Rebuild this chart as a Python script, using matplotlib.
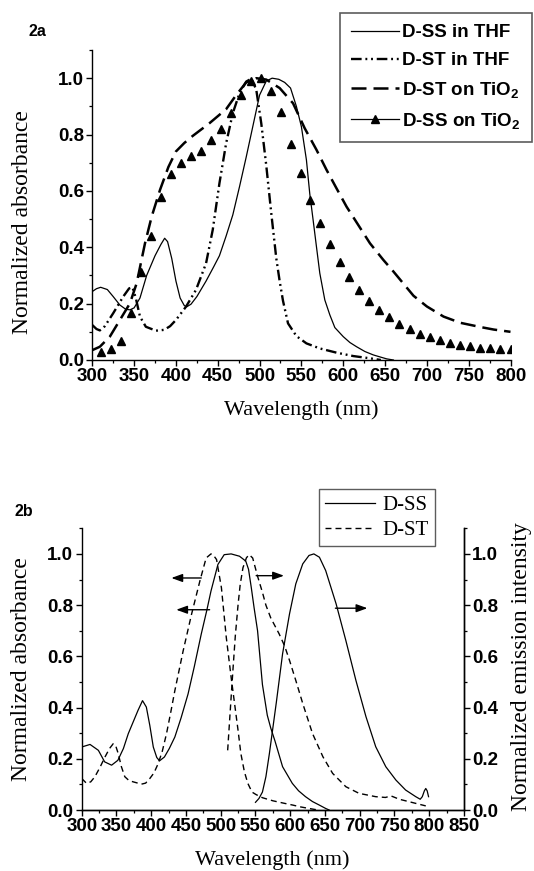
import matplotlib
matplotlib.use("Agg")
import matplotlib.pyplot as plt
from matplotlib.lines import Line2D
from matplotlib.ticker import MultipleLocator

plt.rcParams['mathtext.fontset'] = 'custom'
plt.rcParams['mathtext.rm'] = 'Liberation Sans:bold'
plt.rcParams['mathtext.bf'] = 'Liberation Sans:bold'
plt.rcParams['mathtext.it'] = 'Liberation Sans:bold'

# ---------------- Panel 2a data ----------------
dss_thf_wl = [300, 305, 310, 318, 325, 333, 340, 345, 350, 357, 365, 375, 382, 386.5, 390, 395, 400, 405,
              410, 413, 418, 425, 436, 445, 452, 460, 468, 476, 484, 492, 500, 508, 515, 523, 530, 537,
              544, 550, 556, 560, 564, 568, 572, 578, 584, 590, 600, 608, 616, 626, 636, 645, 652, 660]
dss_thf_abs = [0.243, 0.253, 0.258, 0.250, 0.225, 0.195, 0.180, 0.178, 0.185, 0.220, 0.300, 0.370, 0.410,
               0.432, 0.420, 0.360, 0.280, 0.220, 0.193, 0.189, 0.198, 0.225, 0.280, 0.330, 0.370, 0.440,
               0.515, 0.615, 0.720, 0.830, 0.940, 0.990, 1.000, 0.996, 0.985, 0.965, 0.900, 0.828, 0.710,
               0.590, 0.497, 0.402, 0.308, 0.213, 0.160, 0.115, 0.083, 0.062, 0.047, 0.030, 0.018, 0.010,
               0.004, 0.000]

dst_thf_wl = [300, 305, 309, 315, 325, 337, 344, 348, 352, 357, 364, 376, 386, 393, 400, 412, 424, 436,
              444, 452, 460, 468, 476, 484, 490, 496, 502, 508, 514, 520, 524, 528, 534, 544, 556, 572,
              592, 612, 632, 645]
dst_thf_abs = [0.124, 0.110, 0.105, 0.120, 0.166, 0.225, 0.254, 0.258, 0.220, 0.154, 0.118, 0.104, 0.107,
               0.120, 0.142, 0.189, 0.249, 0.343, 0.462, 0.627, 0.769, 0.876, 0.947, 0.988, 0.998, 0.960,
               0.840, 0.690, 0.520, 0.360, 0.280, 0.210, 0.130, 0.085, 0.059, 0.041, 0.026, 0.014, 0.006,
               0.000]

dst_tio2_wl = [300, 309, 321, 333, 345, 353, 363, 371, 381, 391, 400, 410, 420, 440, 460, 472, 484, 496,
               508, 524, 540, 554, 568, 580, 592, 604, 618, 632, 648, 660, 684, 700, 720, 740, 764, 780, 800]
dst_tio2_abs = [0.035, 0.047, 0.083, 0.142, 0.201, 0.272, 0.414, 0.509, 0.604, 0.685, 0.740, 0.770, 0.795,
                0.840, 0.890, 0.940, 0.985, 1.000, 0.995, 0.965, 0.911, 0.822, 0.746, 0.675, 0.609, 0.544,
                0.479, 0.414, 0.355, 0.314, 0.228, 0.190, 0.154, 0.132, 0.117, 0.108, 0.100]

dss_tio2_wl = [310, 322, 334, 346, 358, 370, 382, 394, 406, 418, 430, 442, 454, 466, 478, 490, 502, 514,
               526, 538, 549, 560, 572, 584, 596, 607, 619, 631, 643, 655, 667, 680, 692, 704, 716, 728,
               740, 752, 764, 776, 788, 800]
dss_tio2_abs = [0.028, 0.038, 0.067, 0.167, 0.311, 0.441, 0.578, 0.660, 0.698, 0.723, 0.742, 0.781, 0.818,
                0.877, 0.940, 0.990, 1.000, 0.956, 0.879, 0.767, 0.662, 0.568, 0.485, 0.411, 0.348, 0.295,
                0.250, 0.211, 0.179, 0.152, 0.129, 0.110, 0.093, 0.080, 0.070, 0.062, 0.054, 0.049, 0.044,
                0.041, 0.039, 0.038]

labels_a = ['D-SS in THF', 'D-ST in THF', r'D-ST on TiO$_2$', r'D-SS on TiO$_2$']

# ---------------- Panel 2b data ----------------
dss_abs_wl = [300, 312, 324, 333, 343, 352, 360, 367, 375, 381, 387.5, 393, 398, 403, 408, 412, 419, 426,
              434, 443, 453, 462, 472, 480, 486, 496, 505, 515, 527, 536, 540, 544, 548, 553, 560, 567,
              572, 578, 589, 603, 612, 622, 632, 642, 651, 656]
dss_abs = [0.246, 0.256, 0.233, 0.188, 0.175, 0.194, 0.240, 0.298, 0.350, 0.389, 0.427, 0.402, 0.330,
           0.246, 0.205, 0.192, 0.207, 0.240, 0.285, 0.360, 0.453, 0.560, 0.687, 0.780, 0.855, 0.959,
           0.997, 1.000, 0.991, 0.972, 0.940, 0.868, 0.790, 0.700, 0.490, 0.370, 0.320, 0.270, 0.169,
           0.104, 0.075, 0.052, 0.033, 0.019, 0.006, 0.000]

dst_abs_wl = [300, 307, 313, 319, 326, 333.5, 340, 345.4, 349, 352.6, 357, 362, 368, 374, 386, 392, 398,
              404, 410, 416, 422, 428, 434, 446, 458, 470, 479, 486, 489, 494, 501, 508, 515, 520, 525,
              529, 534, 539, 545, 551, 560, 575, 590, 604, 615, 627, 640]
dst_abs = [0.123, 0.104, 0.110, 0.130, 0.165, 0.207, 0.240, 0.259, 0.250, 0.220, 0.170, 0.130, 0.115,
           0.110, 0.101, 0.105, 0.123, 0.145, 0.181, 0.230, 0.298, 0.380, 0.466, 0.622, 0.764, 0.894,
           0.984, 1.000, 0.997, 0.978, 0.868, 0.674, 0.518, 0.414, 0.310, 0.220, 0.150, 0.104, 0.070,
           0.060, 0.048, 0.036, 0.027, 0.019, 0.012, 0.006, 0.000]

dss_em_wl = [550, 555, 560, 565, 570, 575, 580, 589, 599, 608, 618, 627, 634, 642, 651, 666, 680, 694.5,
             709, 723, 737.5, 752, 766, 780.6, 787, 790, 793, 795, 797, 799]
dss_em = [0.030, 0.045, 0.070, 0.130, 0.220, 0.320, 0.420, 0.610, 0.766, 0.883, 0.961, 0.994, 1.000,
          0.987, 0.935, 0.805, 0.662, 0.506, 0.364, 0.247, 0.169, 0.117, 0.078, 0.052, 0.042, 0.052,
          0.075, 0.084, 0.075, 0.052]

dst_em_wl = [510, 514, 517.5, 521, 525, 528, 532, 537, 541, 546, 553, 560, 565, 572, 584, 592, 599, 608,
             618, 632, 647, 661, 680, 699, 723, 737, 745, 757, 776, 795]
dst_em = [0.233, 0.400, 0.544, 0.680, 0.803, 0.880, 0.946, 0.985, 0.997, 0.984, 0.913, 0.850, 0.800,
          0.750, 0.688, 0.640, 0.584, 0.506, 0.416, 0.299, 0.208, 0.143, 0.091, 0.065, 0.052, 0.049,
          0.055, 0.042, 0.029, 0.016]

labels_b = ['D-SS', 'D-ST']

# arrows: (y level, x start at curve, x end)
arrows_left = [(0.906, 472, 429), (0.782, 484, 436)]
arrows_right = [(0.915, 551, 591), (0.788, 665, 711)]

W, H = 534, 871
fig = plt.figure(figsize=(W / 100, H / 100), dpi=100)

tick_font = dict(family='Liberation Sans', weight='bold', size=13.5)
serif = 'Liberation Serif'


def style_axis(ax, right=False):
    ax.spines['top'].set_visible(False)
    if not right:
        ax.spines['right'].set_visible(False)
    for s in ax.spines.values():
        s.set_linewidth(1.0)
    ax.tick_params(which='major', direction='out', length=4, width=1.0, pad=2)
    ax.tick_params(which='minor', direction='out', length=2.3, width=0.9)
    ax.set_ylim(0, 1.1)
    ax.yaxis.set_major_locator(MultipleLocator(0.2))
    ax.yaxis.set_minor_locator(MultipleLocator(0.1))
    ax.xaxis.set_major_locator(MultipleLocator(50))
    ax.xaxis.set_minor_locator(MultipleLocator(25))
    ax.yaxis.set_major_formatter(matplotlib.ticker.FormatStrFormatter('%.1f'))
    for lab in ax.get_xticklabels() + ax.get_yticklabels():
        lab.set_fontproperties(matplotlib.font_manager.FontProperties(**tick_font))


# ---------------- Panel 2a ----------------
axa = fig.add_axes([92.3 / W, 1 - 360 / H, (510.5 - 92.3) / W, 310 / H])
axa.set_xlim(300, 800)
axa.plot(dss_thf_wl, dss_thf_abs, color='black', lw=0.9)
axa.plot(dst_thf_wl, dst_thf_abs, color='black', lw=1.7, linestyle=(0, (4.5, 1.6, 0.8, 1.6, 0.8, 1.6)))
axa.plot(dst_tio2_wl, dst_tio2_abs, color='black', lw=1.8, linestyle=(0, (6.0, 2.8)))
axa.plot(dss_tio2_wl, dss_tio2_abs, color='black', lw=0, marker='^', markersize=6.2, linestyle='none')
style_axis(axa)

handles_a = [Line2D([], [], color='black', lw=0.9),
             Line2D([], [], color='black', lw=1.7, linestyle=(0, (4.5, 1.6, 0.8, 1.6, 0.8, 1.6))),
             Line2D([], [], color='black', lw=1.8, linestyle=(0, (6.0, 2.8))),
             Line2D([], [], color='black', lw=0.9, marker='^', markersize=6.2)]
leg_a = fig.legend(handles_a, labels_a, loc='upper left', bbox_to_anchor=(339.6 / W, 1 - 12.7 / H),
                   bbox_transform=fig.transFigure, prop=dict(family='Liberation Sans', weight='bold', size=13.5),
                   frameon=True, fancybox=False, handlelength=2.55, handletextpad=0.2, borderpad=0.6,
                   labelspacing=0.58, borderaxespad=0)
leg_a.get_frame().set_edgecolor('#333333')
leg_a.get_frame().set_linewidth(1.2)

fig.text(37 / W, 1 - 32 / H, '2a', ha='center', va='center', family='Liberation Sans', weight='bold', size=11.5)
fig.text(301 / W, 1 - 410 / H, 'Wavelength (nm)', ha='center', va='center', family=serif, size=16)
fig.text(23 / W, 1 - 222 / H, 'Normalized absorbance', ha='center', va='center', rotation=90,
         family=serif, size=17)

# ---------------- Panel 2b ----------------
axb = fig.add_axes([81.7 / W, 1 - 810 / H, (464 - 81.7) / W, (810 - 528.3) / H])
axb.set_xlim(300, 850)
axb.plot(dss_abs_wl, dss_abs, color='black', lw=0.9, label=labels_b[0])
axb.plot(dst_abs_wl, dst_abs, color='black', lw=1.0, linestyle=(0, (4.3, 2.9)), label=labels_b[1])
style_axis(axb, right=True)

axr = axb.twinx()
axr.set_xlim(300, 850)
axr.plot(dss_em_wl, dss_em, color='black', lw=0.9)
axr.plot(dst_em_wl, dst_em, color='black', lw=1.0, linestyle=(0, (4.3, 2.9)))
style_axis(axr, right=True)
axr.spines['left'].set_visible(False)

for y, x0, x1 in arrows_left + arrows_right:
    axb.annotate('', xy=(x1, y), xytext=(x0, y),
                 arrowprops=dict(arrowstyle='-|>,head_length=0.55,head_width=0.2', lw=1.0, color='black',
                                 shrinkA=0, shrinkB=0, mutation_scale=12))

leg_b = fig.legend(handles=axb.get_lines()[:2], labels=labels_b, loc='upper left',
                   bbox_to_anchor=(318.5 / W, 1 - 489.4 / H), bbox_transform=fig.transFigure,
                   prop=dict(family=serif, size=15), frameon=True, fancybox=False, handlelength=2.4,
                   handletextpad=0.35, borderpad=0.3, labelspacing=0.25, borderaxespad=0)
leg_b.get_frame().set_edgecolor('#333333')
leg_b.get_frame().set_linewidth(1.0)

fig.text(24 / W, 1 - 511.5 / H, '2b', ha='center', va='center', family='Liberation Sans', weight='bold', size=11.5)
fig.text(272 / W, 1 - 860 / H, 'Wavelength (nm)', ha='center', va='center', family=serif, size=16)
fig.text(22 / W, 1 - 669 / H, 'Normalized absorbance', ha='center', va='center', rotation=90,
         family=serif, size=17)
fig.text(521 / W, 1 - 667 / H, 'Normalized emission intensity', ha='center', va='center', rotation=90,
         family=serif, size=17)

fig.savefig('out.png', dpi=100)
